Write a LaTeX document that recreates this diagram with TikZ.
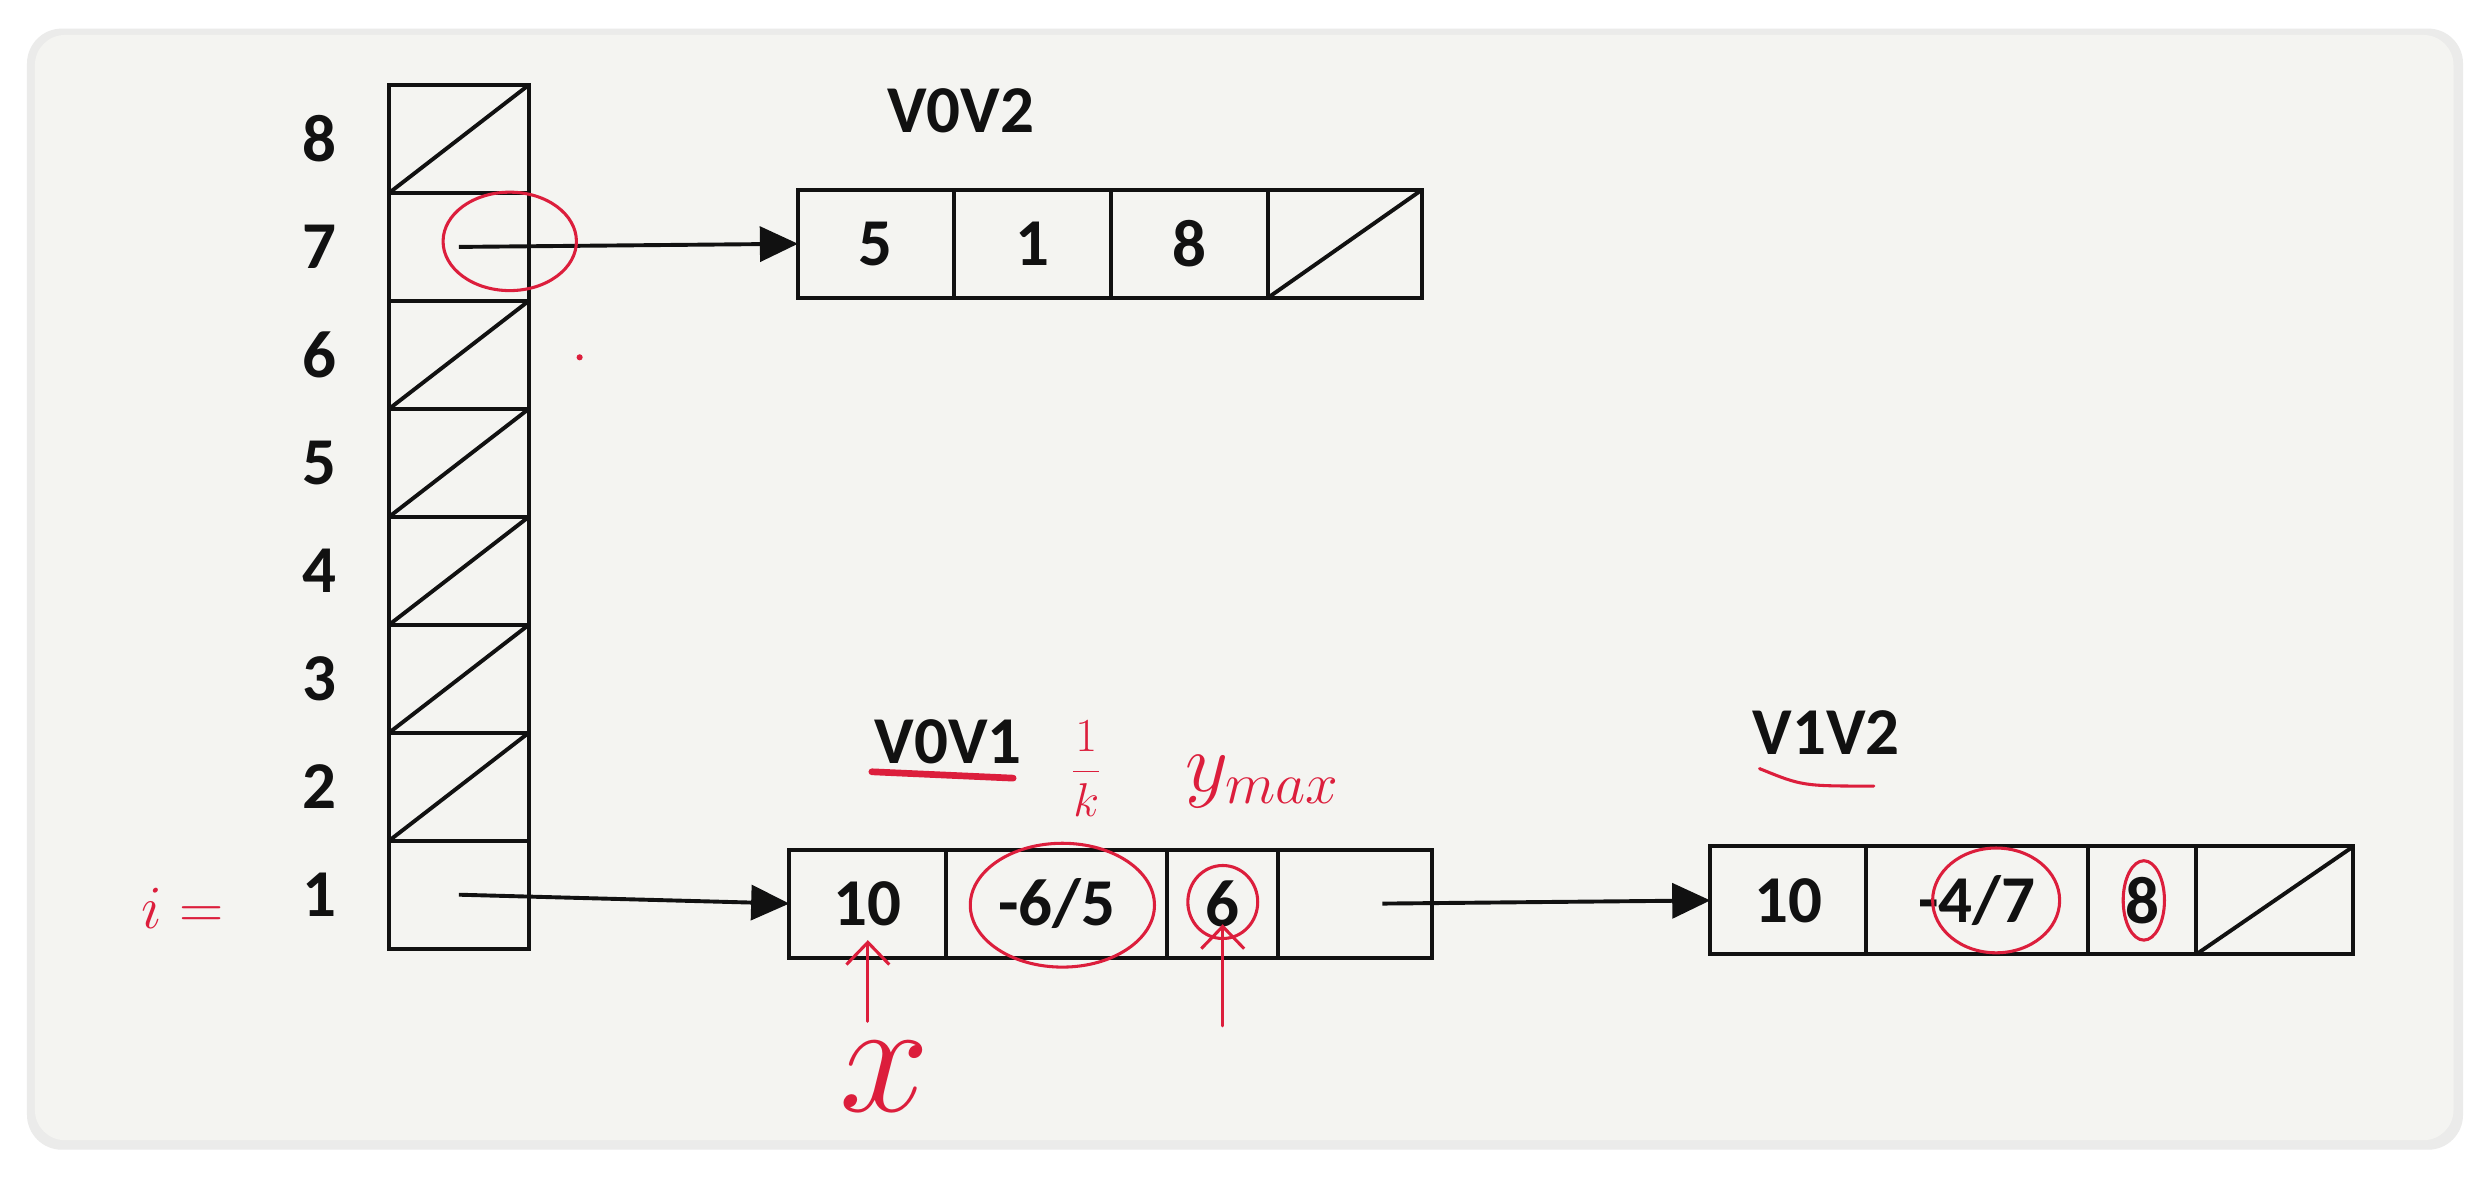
\RequirePackage{fix-cm}
\documentclass[tikz,border=0pt]{standalone}
\usepackage{fontspec}
\setmainfont{Carlito}
\usetikzlibrary{arrows.meta,positioning}
\definecolor{Card}{HTML}{F4F4F1}
\definecolor{Shade}{HTML}{EBEBEA}
\definecolor{Ink}{HTML}{DC1E3C}
\definecolor{Line}{HTML}{111111}
\tikzset{cell/.style={draw=Line,line width=1.4pt,minimum height=1.36cm,inner sep=0pt,outer sep=0pt,font=\fontsize{24}{24}\selectfont\bfseries,text=Line},nil/.style={path picture={\draw[Line,line width=1.4pt](path picture bounding box.south west)--(path picture bounding box.north east);}},idx/.style={font=\fontsize{24}{24}\selectfont\bfseries,text=Line,inner sep=2pt},title/.style={font=\fontsize{24}{24}\selectfont\bfseries,text=Line},link/.style={-{Triangle[length=.48cm,width=.44cm]},line width=1.4pt,draw=Line},ink/.style={draw=Ink,line width=1.1pt,line cap=round},inkarrow/.style={ink,-{Straight Barb[length=.28cm,width=.54cm]}},hand/.style={text=Ink,inner sep=0pt}}

\begin{document}
\begin{tikzpicture}[x=0.02cm,y=-0.02cm]
      \useasboundingbox (0,0) rectangle (1568,741);
      \fill[white] (0,0) rectangle (1568,741);
      \fill[Shade,rounded corners=.44cm] (17,18) rectangle (1551,724);
      \fill[Card,rounded corners=.38cm] (22,22) rectangle (1545,718);
      % hash column
      \node[cell,minimum width=1.76cm,nil](slot8) at (289,87.5){};
      \foreach \i/\j/\s in {7/8/cell,6/7/nil,5/6/nil,4/5/nil,3/4/nil,2/3/nil,1/2/cell}
        \node[cell,\s,minimum width=1.76cm,below=0pt of slot\j](slot\i){};
      \foreach \i in {1,...,8}
        \node[idx,left=.58cm of slot\i](n\i){\i};
      % edge lists
      \node[title](v02) at (605,70){V0V2};
      \node[cell,minimum width=1.96cm](top1) at (551.5,153.5){5};
      \node[cell,minimum width=1.98cm,right=0pt of top1](top2){1};
      \node[cell,minimum width=1.98cm,right=0pt of top2](top3){8};
      \node[cell,nil,minimum width=1.94cm,right=0pt of top3](top4){};
      \node[title](v01) at (597,467){V0V1};
      \node[cell,minimum width=1.98cm](mid1) at (546.5,569){10};
      \node[cell,minimum width=2.78cm,right=0pt of mid1](mid2){-6/5};
      \node[cell,minimum width=1.4cm,right=0pt of mid2](mid3){6};
      \node[cell,minimum width=1.94cm,right=0pt of mid3](mid4){};
      \node[title](v12) at (1150,461){V1V2};
      \node[cell,minimum width=1.96cm](far1) at (1126,567){10};
      \node[cell,minimum width=2.8cm,right=0pt of far1](far2){-4/7};
      \node[cell,minimum width=1.36cm,right=0pt of far2](far3){8};
      \node[cell,nil,minimum width=1.98cm,right=0pt of far3](far4){};
      \draw[link](slot7.center)--(top1.west);
      \draw[link](slot1.center)--(mid1.west);
      \draw[link]([xshift=.34cm]mid4.center)--(far1.west);
      % pen marks
      \node[hand,font=\fontsize{22}{22}\selectfont](ieq) at (115,572){$i=$};
      \draw[ink] (321,152) ellipse [x radius=.84cm,y radius=.62cm];
      \fill[Ink] (365,225) circle [radius=1.1pt];
      \draw[Ink,line width=2.4pt,line cap=round] (549,486)--(638,490);
      \node[hand,font=\fontsize{17}{17}\selectfont](frac) at (684,484){$\displaystyle\frac{1}{k}$};
      \node[hand,font=\fontsize{30}{30}\selectfont](ymax) at (795,492){$y_{max}$};
      \draw[ink] (669,570) ellipse [x radius=1.16cm,y radius=.78cm];
      \draw[ink] (770,568) ellipse [x radius=.44cm,y radius=.46cm];
      \node[hand,font=\fontsize{58}{58}\selectfont](xmark) at (557,678){$x$};
      \coordinate[above=.25cm of xmark.north](xtail);
      \draw[inkarrow] (mid1.south |- xtail)--([yshift=.22cm]mid1.south);
      \draw[inkarrow] ([yshift=-.86cm]mid3.south)--([yshift=.42cm]mid3.south);
      \draw[ink] (1108,484) .. controls (1135,495) .. (1180,495);
      \draw[ink] (1257,567) ellipse [x radius=.8cm,y radius=.66cm];
      \draw[ink] (1350,567) ellipse [x radius=.26cm,y radius=.5cm];
    \end{tikzpicture}
\end{document}
